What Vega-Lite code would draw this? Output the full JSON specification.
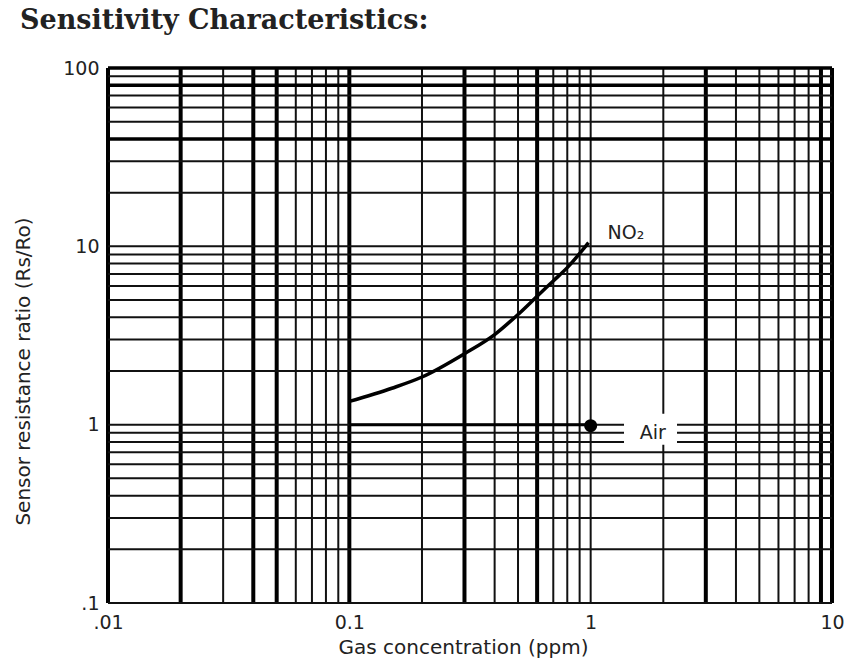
{
  "$schema": "https://vega.github.io/schema/vega-lite/v6.json",
  "autosize": {"type": "none"},
  "padding": {"left": 108, "top": 68, "right": 13, "bottom": 61},
  "width": 724,
  "height": 535,
  "background": "white",
  "config": {"view": {"stroke": null}},
  "title": {
    "text": "Sensitivity Characteristics:",
    "anchor": "start",
    "frame": "group",
    "font": "DejaVu Serif",
    "fontWeight": "bold",
    "fontSize": 27,
    "color": "#222",
    "dx": -88,
    "offset": 24
  },
  "datasets": {
    "gx_minor": [{"x": 0.03}, {"x": 0.06}, {"x": 0.07}, {"x": 0.08}, {"x": 0.09}, {"x": 0.2}, {"x": 0.4}, {"x": 0.5}, {"x": 0.7}, {"x": 0.8}, {"x": 0.9}, {"x": 1}, {"x": 2}, {"x": 4}, {"x": 5}, {"x": 6}, {"x": 7}, {"x": 8}],
    "gx_major": [{"x": 0.01}, {"x": 0.02}, {"x": 0.04}, {"x": 0.05}, {"x": 0.1}, {"x": 0.3}, {"x": 0.6}, {"x": 3}, {"x": 9}, {"x": 10}],
    "gy_minor": [{"y": 0.1}, {"y": 0.2}, {"y": 0.3}, {"y": 0.4}, {"y": 0.5}, {"y": 0.6}, {"y": 0.7}, {"y": 0.8}, {"y": 0.9}, {"y": 1}, {"y": 2}, {"y": 3}, {"y": 4}, {"y": 5}, {"y": 6}, {"y": 7}, {"y": 8}, {"y": 9}, {"y": 10}, {"y": 20}, {"y": 30}, {"y": 50}, {"y": 60}, {"y": 70}, {"y": 90}],
    "gy_major": [{"y": 40}, {"y": 80}, {"y": 100}],
    "no2": [{"x": 0.1, "y": 1.35}, {"x": 0.15, "y": 1.6}, {"x": 0.2, "y": 1.85}, {"x": 0.3, "y": 2.5}, {"x": 0.4, "y": 3.2}, {"x": 0.5, "y": 4.15}, {"x": 0.6, "y": 5.25}, {"x": 0.7, "y": 6.4}, {"x": 0.8, "y": 7.6}, {"x": 0.98, "y": 10.5}],
    "air": [{"x": 0.1, "y": 1}, {"x": 1, "y": 1}],
    "airdot": [{"x": 1.0, "y": 0.987}],
    "labels": [{"x": 1.4, "y": 11.9, "label": "NO₂"}, {"x": 1.81, "y": 0.9, "label": "Air"}],
    "box": [{"x": 1.77, "y": 0.943}]
  },
  "layer": [
    {
      "data": {"name": "gx_minor"},
      "mark": {"type": "rule", "stroke": "#111", "strokeWidth": 2},
      "encoding": {
        "x": {"field": "x", "type": "quantitative", "scale": {"type": "log", "domain": [0.01, 10], "nice": false}}
      }
    },
    {
      "data": {"name": "gx_major"},
      "mark": {"type": "rule", "stroke": "#000", "strokeWidth": 4},
      "encoding": {
        "x": {"field": "x", "type": "quantitative", "scale": {"type": "log", "domain": [0.01, 10], "nice": false}}
      }
    },
    {
      "data": {"name": "gy_minor"},
      "mark": {"type": "rule", "stroke": "#111", "strokeWidth": 2},
      "encoding": {
        "y": {"field": "y", "type": "quantitative", "scale": {"type": "log", "domain": [0.1, 100], "nice": false}}
      }
    },
    {
      "data": {"name": "gy_major"},
      "mark": {"type": "rule", "stroke": "#000", "strokeWidth": 3.5},
      "encoding": {
        "y": {"field": "y", "type": "quantitative", "scale": {"type": "log", "domain": [0.1, 100], "nice": false}}
      }
    },
    {
      "data": {"name": "box"},
      "mark": {"type": "point", "shape": "M-1,-0.585L1,-0.585L1,0.585L-1,0.585Z", "size": 2809, "filled": true, "fill": "white", "opacity": 1, "strokeWidth": 0},
      "encoding": {
        "x": {"field": "x", "type": "quantitative", "scale": {"type": "log", "domain": [0.01, 10], "nice": false}},
        "y": {"field": "y", "type": "quantitative", "scale": {"type": "log", "domain": [0.1, 100], "nice": false}}
      }
    },
    {
      "data": {"name": "air"},
      "mark": {"type": "line", "stroke": "#000", "strokeWidth": 3},
      "encoding": {
        "x": {"field": "x", "type": "quantitative", "scale": {"type": "log", "domain": [0.01, 10], "nice": false}},
        "y": {"field": "y", "type": "quantitative", "scale": {"type": "log", "domain": [0.1, 100], "nice": false}}
      }
    },
    {
      "data": {"name": "airdot"},
      "mark": {"type": "point", "shape": "circle", "size": 170, "filled": true, "fill": "#000", "opacity": 1},
      "encoding": {
        "x": {"field": "x", "type": "quantitative", "scale": {"type": "log", "domain": [0.01, 10], "nice": false}},
        "y": {"field": "y", "type": "quantitative", "scale": {"type": "log", "domain": [0.1, 100], "nice": false}}
      }
    },
    {
      "data": {"name": "no2"},
      "mark": {"type": "line", "stroke": "#000", "strokeWidth": 3.5, "interpolate": "monotone"},
      "encoding": {
        "x": {
          "field": "x", "type": "quantitative",
          "scale": {"type": "log", "domain": [0.01, 10], "nice": false},
          "axis": {
            "values": [0.01, 0.1, 1, 10],
            "labelExpr": "datum.value < 0.05 ? '.01' : datum.value < 0.5 ? '0.1' : datum.value < 5 ? '1' : '10'",
            "grid": false, "ticks": false, "domain": false,
            "labelFont": "DejaVu Sans", "labelFontSize": 19, "labelColor": "#222",
            "labelPadding": 10, "labelFlush": false,
            "title": "Gas concentration (ppm)",
            "titleFont": "DejaVu Sans", "titleFontSize": 20, "titleFontWeight": "normal", "titleColor": "#222",
            "titlePadding": 5, "titleX": 355
          }
        },
        "y": {
          "field": "y", "type": "quantitative",
          "scale": {"type": "log", "domain": [0.1, 100], "nice": false},
          "axis": {
            "values": [0.1, 1, 10, 100],
            "labelExpr": "datum.value < 0.5 ? '.1' : datum.value < 5 ? '1' : datum.value < 50 ? '10' : '100'",
            "grid": false, "ticks": false, "domain": false,
            "labelFont": "DejaVu Sans", "labelFontSize": 19, "labelColor": "#222",
            "labelPadding": 9, "labelFlush": false,
            "title": "Sensor resistance ratio (Rs/Ro)",
            "titleFont": "DejaVu Sans", "titleFontSize": 20, "titleFontWeight": "normal", "titleColor": "#222",
            "titleAngle": 270, "titleX": -85, "titleY": 303, "titleAlign": "center", "titleBaseline": "middle"
          }
        }
      }
    },
    {
      "data": {"name": "labels"},
      "mark": {"type": "text", "font": "DejaVu Sans", "fontSize": 19, "fill": "#222", "align": "center", "baseline": "middle"},
      "encoding": {
        "x": {"field": "x", "type": "quantitative", "scale": {"type": "log", "domain": [0.01, 10], "nice": false}},
        "y": {"field": "y", "type": "quantitative", "scale": {"type": "log", "domain": [0.1, 100], "nice": false}},
        "text": {"field": "label"}
      }
    }
  ]
}
